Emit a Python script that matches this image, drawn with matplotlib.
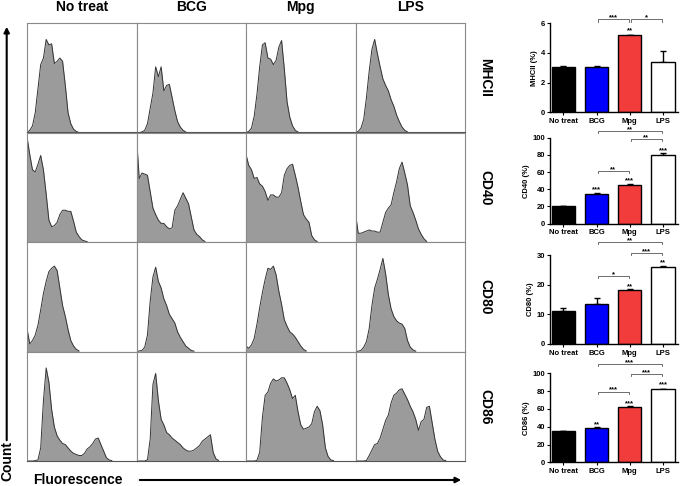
import numpy as np
import matplotlib
matplotlib.use("Agg")
import matplotlib.pyplot as plt
from matplotlib.patches import FancyArrowPatch

plt.rcParams['font.family'] = ['Liberation Sans', 'DejaVu Sans']
plt.rcParams['font.weight'] = 'bold'
plt.rcParams['axes.labelweight'] = 'bold'

# ── data ──
groups = ["No treat", "BCG", "Mpg", "LPS"]
markers = ["MHCII", "CD40", "CD80", "CD86"]

# histogram counts (% of panel height) per fluorescence bin, rows = markers, cols = groups
hist_mhcii = [
    [0, 2, 6, 18, 40, 62, 68, 85, 80, 81, 63, 65, 68, 65, 43, 18, 8, 3, 1, 0],
    [0, 0, 0.5, 2, 8, 22, 36, 60, 51, 60, 38, 43, 44, 32, 20, 10, 5, 2, 0.5],
    [0, 1, 4, 15, 35, 60, 80, 82, 68, 67, 62, 66, 78, 84, 58, 28, 14, 6, 2, 0.5],
    [0, 1, 4, 12, 32, 56, 76, 85, 72, 60, 49, 43, 38, 30, 24, 16, 10, 5, 2, 0.5],
]
hist_cd40 = [
    [96, 80, 66, 64, 71, 79, 66, 44, 20, 14, 15, 18, 25, 29, 29, 28, 28, 19, 9, 5, 2, 1, 0.3],
    [96, 58, 63, 62, 61, 46, 31, 25, 20, 17, 17, 14, 12, 13, 29, 33, 39, 45, 40, 35, 23, 11, 7, 5, 2, 0.5],
    [80, 70, 66, 58, 59, 53, 51, 46, 38, 43, 43, 41, 41, 45, 61, 67, 70, 71, 61, 50, 37, 25, 21, 18, 6, 2, 0.5],
    [26, 8, 8, 9, 10, 11, 10, 10, 9, 9, 18, 27, 31, 34, 45, 55, 67, 73, 63, 52, 33, 27, 20, 12, 7, 3, 0.5],
]
hist_cd80 = [
    [21, 7, 10, 15, 24, 38, 53, 64, 73, 76, 78, 74, 58, 42, 32, 20, 10, 5, 2, 0.5],
    [0, 0.5, 1, 4, 15, 46, 68, 77, 64, 58, 48, 42, 34, 30, 26, 18, 13, 9, 5, 3, 1, 0.3],
    [5, 3, 6, 12, 25, 40, 54, 66, 76, 75, 78, 70, 55, 43, 29, 23, 18, 16, 13, 9, 5, 2, 0.5],
    [0, 0.3, 1, 4, 9, 21, 42, 58, 66, 75, 85, 71, 52, 39, 32, 28, 26, 25, 21, 10, 4, 1.5, 0.3],
]
hist_cd86 = [
    [0, 0, 0, 0.3, 1, 12, 55, 85, 72, 47, 31, 23, 19, 16, 15, 12, 9, 7, 6, 5, 5, 7, 11, 13, 16, 20, 21, 15, 9, 3, 1, 0.3],
    [0, 0, 0, 0, 1, 20, 70, 80, 55, 38, 33, 26, 24, 21, 19, 17, 15, 12, 10, 9, 9, 10, 12, 14, 18, 20, 22, 24, 8, 2, 0.5],
    [0, 0, 0, 0, 0.5, 8, 40, 60, 63, 71, 75, 73, 74, 76, 76, 71, 65, 57, 60, 45, 33, 29, 30, 31, 34, 45, 50, 46, 33, 12, 4, 1, 0.3],
    [0, 0, 0, 0, 0.5, 5, 10, 15, 16, 21, 29, 37, 42, 53, 60, 62, 65, 66, 61, 56, 50, 45, 38, 28, 36, 38, 49, 50, 35, 20, 9, 4, 1, 0.3],
]
hists = [hist_mhcii, hist_cd40, hist_cd80, hist_cd86]
n_bins = 40

# bar charts: mean % and upper error
mhcii_mean = [3.03, 3.05, 5.21, 3.42]
mhcii_err = [0.12, 0.10, 0.03, 0.70]
cd40_mean = [20.2, 34.9, 45.0, 79.8]
cd40_err = [0.4, 1.2, 0.6, 2.5]
cd80_mean = [11.2, 13.6, 18.3, 26.1]
cd80_err = [0.8, 2.0, 0.2, 0.3]
cd86_mean = [35.2, 38.6, 61.8, 82.4]
cd86_err = [0.5, 0.6, 1.0, 0.4]

# significance vs No treat (label over bar), and pairwise brackets (i, j, label)
star_mhcii = [None, None, "**", None]
star_cd40 = [None, "***", "***", "***"]
star_cd80 = [None, None, "**", "**"]
star_cd86 = [None, "**", "***", "***"]
pairs_mhcii = [(1, 2, "***"), (2, 3, "*")]
pairs_cd40 = [(1, 2, "**"), (2, 3, "**"), (1, 3, "**")]
pairs_cd80 = [(1, 2, "*"), (2, 3, "***"), (1, 3, "**")]
pairs_cd86 = [(1, 2, "***"), (2, 3, "***"), (1, 3, "***")]

bar_colors = ["black", "#0000ff", "#f23c3c", "white"]

W, H = 685, 486
fig = plt.figure(figsize=(W / 100, H / 100), dpi=100)


def px_axes(x0, y0, w, h):
    return fig.add_axes([x0 / W, 1 - (y0 + h) / H, w / W, h / H])


# ── histogram grid ──
gx0, gy0, cw, ch = 27, 23, 109.5, 109.5
for r in range(4):
    for c in range(4):
        ax = px_axes(gx0 + c * cw, gy0 + r * ch, cw, ch)
        y = np.array(hists[r][c], dtype=float)
        xb = np.arange(len(y))
        ax.fill_between(xb, 0, y, color="#9b9b9b", lw=0)
        ax.plot(xb, y, color="#333333", lw=0.7)
        ax.set_xlim(0, n_bins)
        ax.set_ylim(0, 100)
        ax.set_xticks([])
        ax.set_yticks([])
        for sp in ax.spines.values():
            sp.set_color("#8a8a8a")
            sp.set_linewidth(0.8)
        ax.spines["bottom"].set_color("#555555")

for c, g in enumerate(groups):
    fig.text((gx0 + (c + 0.5) * cw) / W, 1 - 7 / H, g, ha="center", va="center", fontsize=10)
for r, m in enumerate(markers):
    fig.text(485 / W, 1 - (gy0 + (r + 0.5) * ch) / H, m, ha="center", va="center",
             rotation=270, fontsize=10)

fig.add_artist(FancyArrowPatch((6.7 / W, 1 - 443 / H), (6.7 / W, 1 - 24 / H),
                               transform=fig.transFigure, arrowstyle="-|>",
                               mutation_scale=8, lw=1.5, color="black"))
fig.text(7 / W, 1 - 461 / H, "Count", rotation=90, ha="center", va="center", fontsize=10)
fig.add_artist(FancyArrowPatch((137 / W, 1 - 480 / H), (464 / W, 1 - 480 / H),
                               transform=fig.transFigure, arrowstyle="-|>",
                               mutation_scale=8, lw=1.5, color="black"))
fig.text(77.5 / W, 1 - 480 / H, "Fluorescence", ha="center", va="center", fontsize=10)

# ── bar charts ──
bar_specs = [
    (mhcii_mean, mhcii_err, star_mhcii, pairs_mhcii, 6, [0, 2, 4, 6], "MHCII (%)",
     23.3, 89, [5.42, 5.42, 5.42, 5.42], [6.27, 6.27, None]),
    (cd40_mean, cd40_err, star_cd40, pairs_cd40, 100, [0, 20, 40, 60, 80, 100], "CD40 (%)",
     137.7, 86, [38.1, 38.1, 47.9, 83.5], [61.3, 98.5, 108.0]),
    (cd80_mean, cd80_err, star_cd80, pairs_cd80, 30, [0, 10, 20, 30], "CD80 (%)",
     255, 89, [18.7, 18.7, 18.7, 26.9], [22.9, 30.6, 34.3]),
    (cd86_mean, cd86_err, star_cd86, pairs_cd86, 100, [0, 20, 40, 60, 80, 100], "CD86 (%)",
     373.3, 89, [40.9, 40.9, 64.5, 85.2], [79.3, 99.2, 110.4]),
]

for mean, err, stars, pairs, ytop, yticks, ylab, top_px, h_px, star_y, pair_y in bar_specs:
    ax = px_axes(550, top_px, 128, h_px)
    x = np.arange(len(groups))
    ax.bar(x, mean, width=0.7, color=bar_colors, edgecolor="black", linewidth=1.0, zorder=2)
    ax.errorbar(x, mean, yerr=[np.zeros(len(err)), err], fmt="none", ecolor="black",
                elinewidth=1.0, capsize=2.5, capthick=1.0, zorder=1)
    ax.set_xlim(-0.4, 3.45)
    ax.set_ylim(0, ytop)
    ax.set_yticks(yticks)
    ax.set_xticks(x)
    ax.set_xticklabels(groups, fontsize=5.5)
    ax.tick_params(axis="y", labelsize=5.5, length=2.5, width=0.8, pad=1)
    ax.tick_params(axis="x", length=2.5, width=0.8, pad=1.5)
    ax.set_ylabel(ylab, fontsize=5.5, labelpad=2)
    for sp in ["top", "right"]:
        ax.spines[sp].set_visible(False)
    for sp in ["left", "bottom"]:
        ax.spines[sp].set_linewidth(1.0)
    for i, s in enumerate(stars):
        if s:
            ax.text(i, star_y[i], s, ha="center", va="baseline", fontsize=5.5, clip_on=False)
    d = ytop * 0.025
    for k, (i, j, s) in enumerate(pairs):
        yb = pair_y[k]
        x1, x2 = i + 0.03, j - 0.03
        ax.plot([x1, x1, x2, x2], [yb - d, yb, yb, yb - d], color="#555555", lw=0.6,
                clip_on=False)
        ax.text((x1 + x2) / 2, yb, s, ha="center", va="baseline", fontsize=5.5, clip_on=False)

fig.savefig("out.png", dpi=100)
